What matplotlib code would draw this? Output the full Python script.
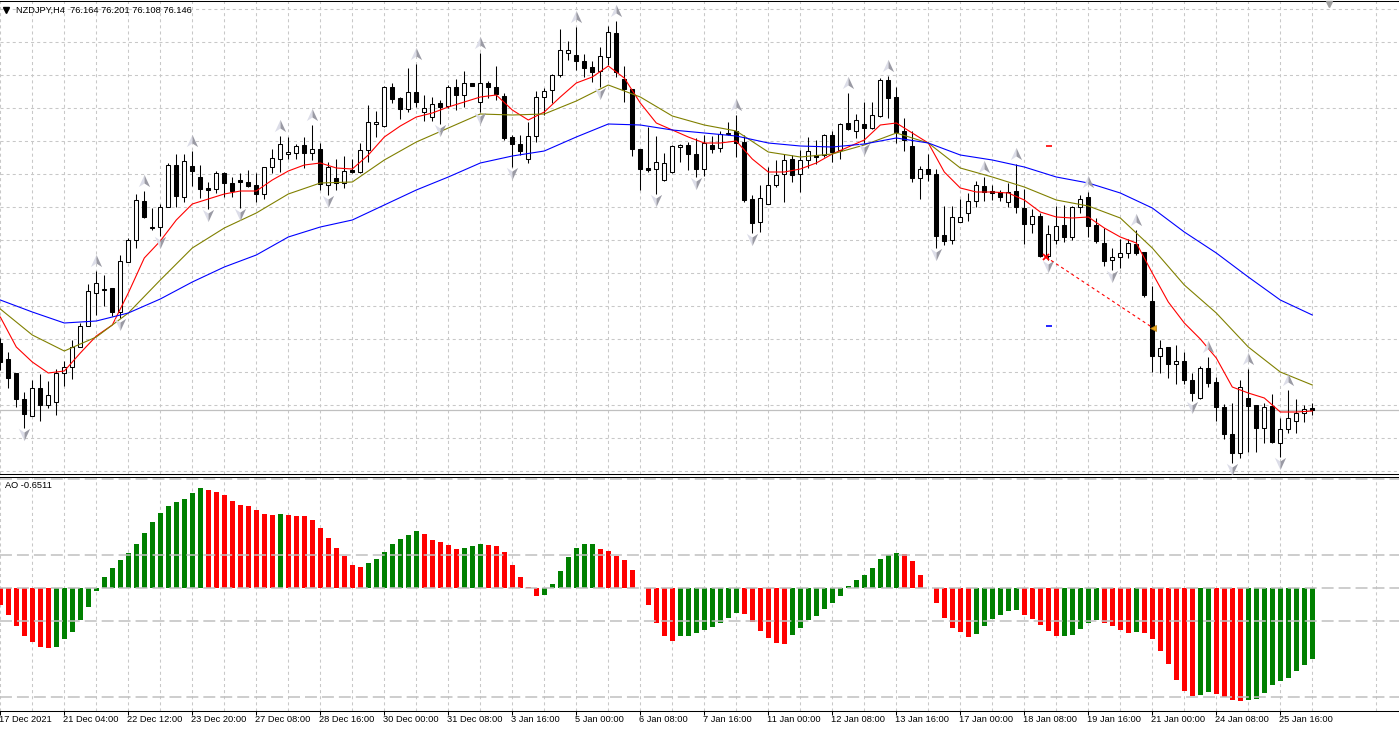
import numpy as np
import matplotlib.pyplot as plt
from matplotlib.path import Path
from matplotlib.lines import Line2D
from matplotlib.transforms import blended_transform_factory

plt.rcParams['font.family'] = ['Liberation Sans', 'DejaVu Sans']
plt.rcParams['lines.scale_dashes'] = False

symbol_text = 'NZDJPY,H4  76.164 76.201 76.108 76.146'
ao_text = 'AO -0.6511'

# H4 candles, one per bar, left to right
opens = [76.682, 76.554, 76.442, 76.234, 76.098, 76.322, 76.186, 76.210, 76.442, 76.490,
         76.650, 76.818, 77.082, 77.106, 77.122, 76.930, 77.330, 77.506, 77.818, 77.602,
         77.610, 77.770, 78.106, 77.850, 78.098, 78.010, 77.922, 77.914, 78.042, 77.962,
         77.986, 77.970, 77.946, 77.874, 78.090, 78.154, 78.194, 78.202, 78.266, 78.202,
         78.234, 77.946, 78.002, 77.962, 78.066, 78.050, 78.226, 78.434, 78.418, 78.730,
         78.642, 78.554, 78.690, 78.530, 78.490, 78.602, 78.578, 78.730, 78.666, 78.762,
         78.610, 78.762, 78.730, 78.658, 78.330, 78.274, 78.154, 78.338, 78.650, 78.706,
         78.826, 79.002, 78.986, 78.938, 78.890, 78.858, 78.970, 79.162, 78.794, 78.714,
         78.234, 78.082, 78.074, 77.986, 78.050, 78.250, 78.266, 78.194, 78.074, 78.266,
         78.242, 78.354, 78.378, 78.290, 77.834, 77.650, 77.794, 77.946, 78.034, 78.154,
         78.034, 78.146, 78.186, 78.186, 78.346, 78.226, 78.442, 78.378, 78.434, 78.402,
         78.498, 78.786, 78.650, 78.378, 78.258, 78.002, 78.074, 78.034, 77.546, 77.506,
         77.650, 77.722, 77.818, 77.938, 77.898, 77.890, 77.810, 77.898, 77.762, 77.634,
         77.698, 77.378, 77.506, 77.626, 77.530, 77.770, 77.850, 77.626, 77.482, 77.346,
         77.370, 77.402, 77.474, 77.410, 77.018, 76.578, 76.650, 76.514, 76.538, 76.386,
         76.242, 76.482, 76.370, 76.170, 75.954, 75.802, 76.242, 76.186, 76.002, 76.178,
         75.882, 75.994, 76.058, 76.122, 76.164]
highs = [76.722, 76.610, 76.442, 76.290, 76.386, 76.434, 76.378, 76.474, 76.538, 76.706,
         76.842, 77.154, 77.258, 77.226, 77.122, 77.386, 77.522, 77.874, 77.898, 77.762,
         77.794, 78.122, 78.194, 78.194, 78.218, 78.106, 77.970, 78.058, 78.050, 78.010,
         78.042, 78.066, 78.042, 78.090, 78.234, 78.338, 78.330, 78.274, 78.330, 78.426,
         78.282, 78.130, 78.154, 78.178, 78.154, 78.282, 78.586, 78.538, 78.738, 78.762,
         78.650, 78.882, 78.914, 78.666, 78.650, 78.626, 78.746, 78.794, 78.858, 78.762,
         79.002, 78.778, 78.898, 78.682, 78.346, 78.346, 78.450, 78.698, 78.722, 78.834,
         79.194, 79.098, 79.210, 78.994, 78.938, 79.050, 79.218, 79.258, 78.898, 78.714,
         78.234, 78.410, 78.338, 78.202, 78.266, 78.274, 78.290, 78.322, 78.346, 78.338,
         78.378, 78.450, 78.506, 78.346, 77.866, 77.946, 78.090, 78.146, 78.194, 78.186,
         78.226, 78.330, 78.306, 78.354, 78.378, 78.442, 78.682, 78.514, 78.610, 78.610,
         78.802, 78.818, 78.730, 78.482, 78.378, 78.098, 78.194, 78.074, 77.778, 77.778,
         77.834, 77.882, 77.978, 78.010, 77.946, 77.906, 77.962, 78.114, 77.914, 77.754,
         77.722, 77.626, 77.778, 77.786, 77.778, 77.866, 77.890, 77.682, 77.602, 77.442,
         77.514, 77.514, 77.586, 77.410, 77.138, 76.706, 76.650, 76.666, 76.610, 76.442,
         76.498, 76.570, 76.410, 76.194, 76.202, 76.386, 76.474, 76.186, 76.202, 76.274,
         76.082, 76.306, 76.234, 76.186, 76.201]
lows = [76.466, 76.322, 76.170, 76.002, 76.098, 76.058, 76.162, 76.106, 76.338, 76.394,
        76.650, 76.818, 76.906, 76.978, 76.898, 76.882, 77.330, 77.442, 77.682, 77.586,
        77.538, 77.770, 77.770, 77.810, 77.938, 77.842, 77.754, 77.882, 77.850, 77.850,
        77.762, 77.930, 77.810, 77.834, 78.042, 78.050, 78.154, 78.154, 78.082, 78.146,
        77.906, 77.866, 77.906, 77.922, 78.042, 78.042, 78.130, 78.330, 78.410, 78.602,
        78.474, 78.530, 78.570, 78.458, 78.458, 78.434, 78.562, 78.546, 78.570, 78.738,
        78.530, 78.642, 78.626, 78.306, 78.090, 78.186, 78.122, 78.290, 78.506, 78.602,
        78.810, 78.946, 78.866, 78.810, 78.770, 78.730, 78.906, 78.810, 78.610, 78.178,
        77.906, 78.050, 77.874, 77.978, 78.042, 78.130, 78.066, 78.010, 78.018, 78.202,
        78.210, 78.346, 78.170, 77.810, 77.562, 77.570, 77.794, 77.930, 77.810, 77.970,
        77.890, 78.082, 78.114, 78.170, 78.130, 78.154, 78.386, 78.322, 78.282, 78.394,
        78.490, 78.482, 78.282, 78.218, 77.970, 77.834, 77.978, 77.442, 77.466, 77.474,
        77.650, 77.658, 77.770, 77.818, 77.826, 77.818, 77.770, 77.722, 77.474, 77.562,
        77.370, 77.346, 77.474, 77.490, 77.506, 77.722, 77.530, 77.482, 77.298, 77.266,
        77.282, 77.362, 77.386, 77.050, 76.450, 76.442, 76.402, 76.354, 76.354, 76.218,
        76.234, 76.330, 76.058, 75.914, 75.722, 75.762, 75.810, 75.810, 75.882, 75.882,
        75.770, 75.962, 75.962, 76.050, 76.108]
closes = [76.530, 76.402, 76.234, 76.114, 76.322, 76.186, 76.266, 76.442, 76.490, 76.650,
          76.818, 77.098, 77.162, 77.114, 76.930, 77.338, 77.506, 77.826, 77.690, 77.610,
          77.770, 78.106, 77.858, 78.138, 78.058, 77.914, 77.906, 78.042, 77.962, 77.898,
          77.970, 77.938, 77.874, 78.090, 78.162, 78.274, 78.210, 78.258, 78.202, 78.234,
          77.954, 78.090, 77.962, 78.058, 78.050, 78.226, 78.450, 78.450, 78.730, 78.634,
          78.554, 78.690, 78.610, 78.562, 78.594, 78.570, 78.730, 78.666, 78.762, 78.738,
          78.762, 78.730, 78.674, 78.322, 78.274, 78.218, 78.338, 78.650, 78.698, 78.826,
          79.026, 79.026, 78.938, 78.882, 78.850, 78.978, 79.170, 78.850, 78.714, 78.234,
          78.074, 78.066, 78.130, 78.122, 78.258, 78.266, 78.194, 78.074, 78.282, 78.234,
          78.354, 78.362, 78.282, 77.826, 77.642, 77.842, 77.946, 78.026, 78.146, 78.026,
          78.146, 78.218, 78.170, 78.346, 78.210, 78.434, 78.394, 78.466, 78.402, 78.506,
          78.786, 78.642, 78.370, 78.306, 78.002, 78.074, 78.034, 77.538, 77.498, 77.690,
          77.690, 77.818, 77.946, 77.890, 77.882, 77.850, 77.890, 77.770, 77.634, 77.698,
          77.378, 77.554, 77.618, 77.530, 77.770, 77.834, 77.618, 77.498, 77.338, 77.370,
          77.402, 77.482, 77.402, 77.066, 76.578, 76.642, 76.514, 76.538, 76.386, 76.282,
          76.482, 76.362, 76.170, 75.954, 75.802, 76.330, 76.178, 76.002, 76.170, 75.890,
          75.994, 76.082, 76.122, 76.154, 76.146]

# moving averages (red every 2 bars, olive and blue every 4 bars)
ma_red = [76.890, 76.650, 76.530, 76.442, 76.458, 76.602, 76.738, 76.826, 77.082, 77.362,
          77.498, 77.666, 77.794, 77.834, 77.874, 77.898, 77.898, 77.986, 78.058, 78.106,
          78.122, 78.082, 78.074, 78.186, 78.330, 78.418, 78.490, 78.522, 78.570, 78.610,
          78.650, 78.666, 78.546, 78.466, 78.530, 78.650, 78.762, 78.810, 78.898, 78.802,
          78.602, 78.442, 78.386, 78.330, 78.282, 78.282, 78.298, 78.154, 78.050, 78.050,
          78.074, 78.122, 78.194, 78.250, 78.306, 78.426, 78.442, 78.362, 78.282, 78.050,
          77.922, 77.890, 77.890, 77.882, 77.826, 77.730, 77.690, 77.682, 77.690, 77.602,
          77.530, 77.482, 77.242, 77.010, 76.842, 76.714, 76.562, 76.330, 76.282, 76.242,
          76.130, 76.130, 76.138]
ma_olive = [76.954, 76.746, 76.618, 76.730, 76.922, 77.186, 77.442, 77.602, 77.722, 77.874,
            77.962, 77.970, 78.146, 78.290, 78.402, 78.514, 78.506, 78.514, 78.618, 78.746,
            78.650, 78.498, 78.426, 78.378, 78.210, 78.170, 78.194, 78.266, 78.362, 78.282,
            78.082, 78.010, 77.930, 77.826, 77.778, 77.682, 77.442, 77.146, 76.922, 76.650,
            76.450, 76.346]
ma_blue = [77.026, 76.930, 76.842, 76.858, 76.922, 77.034, 77.170, 77.290, 77.386, 77.530,
           77.610, 77.666, 77.786, 77.906, 78.010, 78.122, 78.178, 78.218, 78.330, 78.434,
           78.426, 78.386, 78.362, 78.338, 78.282, 78.258, 78.250, 78.274, 78.322, 78.282,
           78.186, 78.146, 78.090, 78.010, 77.962, 77.882, 77.762, 77.570, 77.402, 77.210,
           77.026, 76.906]

# Awesome Oscillator
ao = [-0.153, -0.247, -0.348, -0.439, -0.494, -0.540, -0.552, -0.540, -0.469, -0.403,
      -0.296, -0.174, -0.030, 0.101, 0.180, 0.253, 0.318, 0.400, 0.501, 0.601,
      0.684, 0.748, 0.784, 0.812, 0.867, 0.912, 0.894, 0.876, 0.848, 0.793,
      0.757, 0.755, 0.711, 0.674, 0.665, 0.674, 0.665, 0.663, 0.656, 0.619,
      0.546, 0.455, 0.363, 0.290, 0.208, 0.189, 0.226, 0.263, 0.327, 0.400,
      0.446, 0.482, 0.519, 0.491, 0.436, 0.418, 0.391, 0.354, 0.363, 0.382,
      0.400, 0.391, 0.382, 0.327, 0.208, 0.098, 0.006, -0.073, -0.064, 0.034,
      0.153, 0.281, 0.363, 0.400, 0.402, 0.354, 0.336, 0.290, 0.253, 0.162,
      0.003, -0.156, -0.320, -0.442, -0.488, -0.442, -0.441, -0.414, -0.387, -0.360,
      -0.323, -0.277, -0.231, -0.233, -0.314, -0.396, -0.460, -0.506, -0.515, -0.433,
      -0.369, -0.296, -0.259, -0.195, -0.140, -0.076, 0.016, 0.070, 0.116, 0.180,
      0.263, 0.299, 0.318, 0.308, 0.244, 0.116, -0.003, -0.140, -0.277, -0.369,
      -0.405, -0.451, -0.424, -0.350, -0.286, -0.250, -0.213, -0.204, -0.250, -0.286,
      -0.341, -0.396, -0.442, -0.441, -0.433, -0.378, -0.323, -0.296, -0.323, -0.350,
      -0.387, -0.414, -0.405, -0.414, -0.469, -0.579, -0.698, -0.845, -0.945, -0.991,
      -0.982, -0.954, -0.973, -1.000, -1.028, -1.037, -1.028, -1.018, -0.963, -0.890,
      -0.854, -0.826, -0.762, -0.707, -0.6511]
ao_levels = [1.0, 0.3, 0.0, -0.3, -1.0]

fractal_up = [12, 18, 24, 35, 39, 52, 60, 72, 77, 92, 106, 111, 123, 127, 136, 142, 151, 156, 161]
fractal_down = [3, 15, 20, 26, 30, 41, 55, 60, 64, 75, 82, 87, 94, 108, 117, 131, 139, 149, 154, 160]

date_labels = ['17 Dec 2021', '21 Dec 04:00', '22 Dec 12:00', '23 Dec 20:00', '27 Dec 08:00',
               '28 Dec 16:00', '30 Dec 00:00', '31 Dec 08:00', '3 Jan 16:00', '5 Jan 00:00',
               '6 Jan 08:00', '7 Jan 16:00', '11 Jan 00:00', '12 Jan 08:00', '13 Jan 16:00',
               '17 Jan 00:00', '18 Jan 08:00', '19 Jan 16:00', '21 Jan 00:00', '24 Jan 08:00',
               '25 Jan 16:00']

bid = 76.146
trade_open = (130.7, 77.370)
trade_close = (144.1, 76.802)
trade_sl = 78.258
trade_tp = 76.818

o = np.array(opens)
h = np.array(highs)
l = np.array(lows)
c = np.array(closes)
x = np.arange(len(o))

W, H = 1399, 730
fig = plt.figure(figsize=(W / 100, H / 100), dpi=100)
ax = fig.add_axes([0, (H - 474) / H, 1, 473 / H])
ax2 = fig.add_axes([0, (H - 711) / H, 1, 234 / H])

grid_kw = dict(color='#c8c8c8', lw=0.75, linestyle=(0, (2.2, 2.2)))
x_lo = -0.3 / 8
for a in (ax, ax2):
    a.set_xlim(x_lo, x_lo + W / 8)
    a.set_xticks(np.arange(0, 161, 8))
    a.set_xticks(np.arange(4, 175, 8), minor=True)
    a.grid(which='both', axis='x', **grid_kw)
    a.set_axisbelow(True)
    for s in ('left', 'right'):
        a.spines[s].set_visible(False)
    for s in ('top', 'bottom'):
        a.spines[s].set_linewidth(0.75)
        a.spines[s].set_color('black')
    a.tick_params(which='both', labelleft=False, labelbottom=False, left=False)

# main price panel
ax.set_ylim(75.634, 79.418)
ax.set_yticks(79.3516 - 0.264 * np.arange(15))
ax.grid(axis='y', **grid_kw)
ax.tick_params(which='both', length=0)

ax.axhline(bid, color='#c0c0c0', lw=0.9, zorder=1)

ax.vlines(x, l, h, color='black', lw=0.75, zorder=3)
fill = np.where(c >= o, 'white', 'black')
ax.bar(x, np.abs(c - o), bottom=np.minimum(o, c), width=0.5, color=fill,
       edgecolor='black', linewidth=0.75, zorder=4)

ax.plot(np.arange(0, 165, 2), ma_red, color='#ff0000', lw=0.8, zorder=5)
ax.plot(np.arange(0, 165, 4), ma_olive, color='#808000', lw=0.8, zorder=5)
ax.plot(np.arange(0, 165, 4), ma_blue, color='#0000ff', lw=0.8, zorder=5)

# fractal arrows, drawn as two shaded halves
up_l = Path([(0, 1), (-0.85, -0.85), (0, -0.3), (0, 1)],
            [Path.MOVETO, Path.LINETO, Path.LINETO, Path.CLOSEPOLY])
up_r = Path([(0, 1), (0.85, -0.85), (0, -0.3), (0, 1)],
            [Path.MOVETO, Path.LINETO, Path.LINETO, Path.CLOSEPOLY])
dn_l = Path([(0, -1), (-0.85, 0.85), (0, 0.3), (0, -1)],
            [Path.MOVETO, Path.LINETO, Path.LINETO, Path.CLOSEPOLY])
dn_r = Path([(0, -1), (0.85, 0.85), (0, 0.3), (0, -1)],
            [Path.MOVETO, Path.LINETO, Path.LINETO, Path.CLOSEPOLY])
fu = np.array(fractal_up)
fd = np.array(fractal_down)
for mk, col in ((up_l, '#dcdde8'), (up_r, '#9a9aa4')):
    ax.plot(fu, h[fu] + 0.08, ls='none', marker=mk, ms=9.5, mfc=col, mec='none', zorder=6)
for mk, col in ((dn_l, '#dcdde8'), (dn_r, '#9a9aa4')):
    ax.plot(fd, l[fd] - 0.05, ls='none', marker=mk, ms=9.5, mfc=col, mec='none', zorder=6)

# closed trade
ax.plot([trade_open[0], trade_close[0]], [trade_open[1], trade_close[1]], color='#ff0000',
        lw=0.8, linestyle=(0, (2.2, 2.2)), zorder=6)
ax.plot(*trade_open, marker='x', ms=4, mew=1.3, color='#ff0000', zorder=7)
ax.plot(*trade_close, marker='<', ms=5, mfc='#e8a317', mec='#b07a10', mew=0.5, zorder=7)
ax.hlines([trade_sl, trade_tp], trade_open[0], trade_open[0] + 0.8,
          colors=['#ff0000', '#0000ff'], lw=1.2, zorder=7)

# AO panel
ax2.set_ylim(-1.125, 1.016)
ax2.set_yticks([])
ao_arr = np.array(ao)
ao_col = ['#ff0000'] + ['#008000' if ao_arr[i] > ao_arr[i - 1] else '#ff0000'
                        for i in range(1, len(ao_arr))]
ax2.bar(x, ao_arr, width=0.625, color=ao_col, linewidth=0, zorder=2)
for lv in ao_levels:
    ax2.axhline(lv, color='#c0c0c0', lw=1.1, linestyle=(0, (8.6, 3.6)), zorder=3)
ax2.tick_params(which='major', axis='x', length=3, width=0.75, color='black', direction='out')
ax2.tick_params(which='minor', axis='x', length=0)

tr = blended_transform_factory(ax2.transData, fig.transFigure)
for i, lab in enumerate(date_labels):
    ax2.text(i * 8 - 0.12, 1 - 720 / H, lab, transform=tr, ha='left', va='center',
             fontsize=6.7, color='black')

fig.text(15.7 / W, 1 - 10 / H, symbol_text, ha='left', va='center', fontsize=6.7, color='black')
fig.add_artist(Line2D([5.8 / W], [1 - 10 / H], marker='v', ms=3.8, color='black',
                      transform=fig.transFigure))
fig.text(4.7 / W, 1 - 485.5 / H, ao_text, ha='left', va='center', fontsize=6.7, color='black')
fig.add_artist(Line2D([1329 / W], [1 - 4 / H], marker='v', ms=5, color='#a0a0a0',
                      transform=fig.transFigure))

fig.savefig('out.png', dpi=100)
